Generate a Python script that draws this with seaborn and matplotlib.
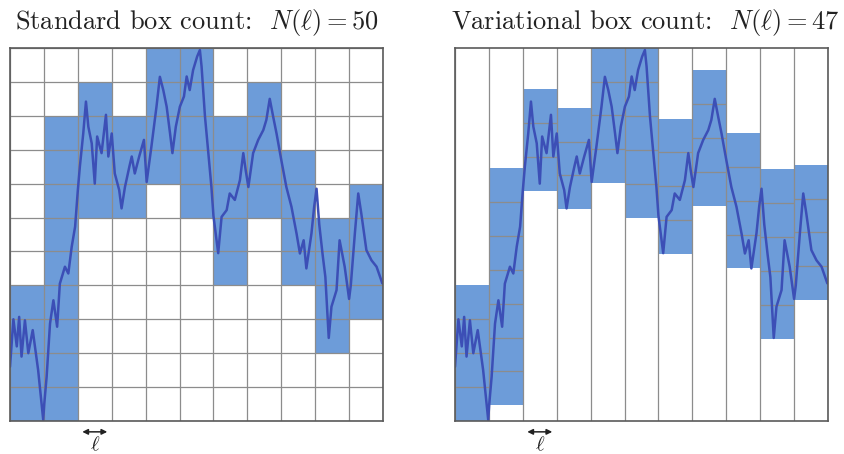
import numpy as np
import pandas as pd
import seaborn as sns
import matplotlib.pyplot as plt

# Path of the walk, in units of the box size ell (11 x 11 cells)
walk_x = [0.00, 0.10, 0.20, 0.27, 0.34, 0.44, 0.54, 0.67, 0.83, 0.98,
          1.01, 1.08, 1.18, 1.28, 1.39, 1.47, 1.62, 1.72, 1.82, 1.92,
          2.00, 2.06, 2.16, 2.24, 2.31, 2.41, 2.50, 2.57, 2.70, 2.83,
          2.90, 3.00, 3.09, 3.22, 3.29, 3.39, 3.52, 3.59, 3.68, 3.81,
          3.95, 4.03, 4.17, 4.32, 4.42, 4.52, 4.62, 4.72, 4.79, 4.89,
          5.01, 5.13, 5.21, 5.30, 5.40, 5.52, 5.60, 5.65, 5.75, 5.84,
          5.94, 6.00, 6.14, 6.24, 6.39, 6.48, 6.63, 6.78, 6.88, 6.95,
          7.03, 7.17, 7.32, 7.47, 7.56, 7.66, 7.76, 7.86, 8.00, 8.15,
          8.30, 8.45, 8.55, 8.66, 8.74, 8.89, 8.97, 9.04, 9.12, 9.22,
          9.30, 9.40, 9.48, 9.63, 9.72, 9.87, 10.00, 10.05, 10.17, 10.27,
          10.36, 10.51, 10.66, 10.81, 10.98]
walk_y = [1.60, 3.00, 2.20, 3.07, 1.90, 2.97, 2.00, 2.68, 1.50, 0.03,
          0.50, 1.30, 2.87, 3.56, 2.78, 4.05, 4.55, 4.35, 5.14, 5.73,
          6.80, 7.50, 8.48, 9.42, 8.68, 8.19, 7.00, 8.39, 7.90, 9.03,
          7.80, 8.48, 7.30, 6.81, 6.27, 6.90, 7.50, 7.80, 7.30, 7.80,
          8.29, 7.05, 8.09, 9.27, 10.15, 9.76, 9.27, 8.48, 7.90, 8.68,
          9.27, 9.57, 10.16, 9.76, 10.35, 10.75, 10.94, 10.45, 8.98, 8.00,
          6.90, 6.05, 4.95, 6.02, 6.22, 6.71, 6.52, 7.10, 7.90, 7.40,
          6.90, 7.90, 8.29, 8.58, 8.88, 9.50, 8.98, 8.48, 7.70, 6.90,
          6.32, 5.53, 4.94, 5.33, 4.50, 5.53, 6.32, 6.85, 5.80, 4.90,
          4.25, 2.45, 3.37, 3.86, 5.33, 4.55, 3.60, 4.00, 5.53, 6.71,
          6.12, 5.04, 4.74, 4.55, 4.06]

# Standard count: occupied grid rows per column (lowest and highest row index)
columns = list(range(11))
std_lo = [0, 0, 6, 6, 7, 6, 4, 6, 4, 2, 3]
std_hi = [3, 8, 9, 8, 10, 10, 8, 9, 7, 5, 6]

# Variational count: stack starts at the column minimum of the walk
var_lo = [0.00, 0.46, 6.79, 6.24, 7.01, 5.99, 4.92, 6.34, 4.50, 2.43, 3.56]
var_n = [4, 7, 3, 3, 4, 5, 4, 4, 4, 5, 4]

titles = [r"Standard box count:  $N(\ell) = 50$",
          r"Variational box count:  $N(\ell) = 47$"]

sns.set_theme(style="white")
plt.rcParams["font.family"] = ["cmr10", "DejaVu Serif"]
plt.rcParams["mathtext.fontset"] = "cm"
plt.rcParams["axes.formatter.use_mathtext"] = True

box_blue = "#6d9cd9"
walk_blue = "#3c4fb6"
grid_gray = "#8c8c8c"
frame_gray = "#5a5a5a"
n = 11

walk = pd.DataFrame({"x": walk_x, "y": walk_y})

fig = plt.figure(figsize=(8.45, 4.54), dpi=100)
W, H = 845, 454
ax_l = fig.add_axes([10 / W, (H - 421) / H, 373 / W, 373 / H])
ax_r = fig.add_axes([455 / W, (H - 421) / H, 373 / W, 373 / H])

for ax in (ax_l, ax_r):
    ax.set_xlim(0, n)
    ax.set_ylim(0, n)
    ax.set_xticks(range(n + 1))
    ax.set_xticklabels([])
    ax.tick_params(length=0)
    for s in ax.spines.values():
        s.set_color(frame_gray)
        s.set_linewidth(1.2)
        s.set_zorder(5)

# Left: fixed grid, every touched cell filled
std_height = [h - l + 1 for l, h in zip(std_lo, std_hi)]
ax_l.bar(columns, std_height, bottom=std_lo, width=1.0, align="edge",
         color=box_blue, linewidth=0, zorder=1)
ax_l.set_yticks(range(n + 1))
ax_l.set_yticklabels([])
ax_l.set_axisbelow(False)
ax_l.grid(True, color=grid_gray, linewidth=0.9)

# Right: boxes stacked from each column's minimum
ax_r.set_yticks([])
ax_r.bar(columns, var_n, bottom=var_lo, width=1.0, align="edge",
         color=box_blue, linewidth=0, zorder=1)
for c, lo, k in zip(columns, var_lo, var_n):
    for j in range(1, k):
        ax_r.hlines(lo + j, c, c + 1, color=grid_gray, linewidth=0.9, zorder=2)
ax_r.set_axisbelow(False)
ax_r.grid(True, axis="x", color=grid_gray, linewidth=0.9)

for ax in (ax_l, ax_r):
    sns.lineplot(data=walk, x="x", y="y", ax=ax, sort=False, estimator=None,
                 color=walk_blue, linewidth=1.8, zorder=4)
    ax.set_xlabel("")
    ax.set_ylabel("")
    # box size marker under the third column
    ax.annotate("", xy=(2.05, -0.32), xytext=(2.95, -0.32),
                xycoords="data", textcoords="data",
                arrowprops=dict(arrowstyle="<|-|>", color="#222222",
                                lw=1.1, mutation_scale=8),
                annotation_clip=False)
    ax.text(2.5, -0.7, r"$\ell$", ha="center", va="center", fontsize=15,
            color="#222222", clip_on=False)

fig.text(197 / W, 1 - 22 / H, titles[0], ha="center", va="center",
         fontsize=19, color="#222222")
fig.text(645 / W, 1 - 22 / H, titles[1], ha="center", va="center",
         fontsize=19, color="#222222")

fig.savefig("out.png", dpi=100)
